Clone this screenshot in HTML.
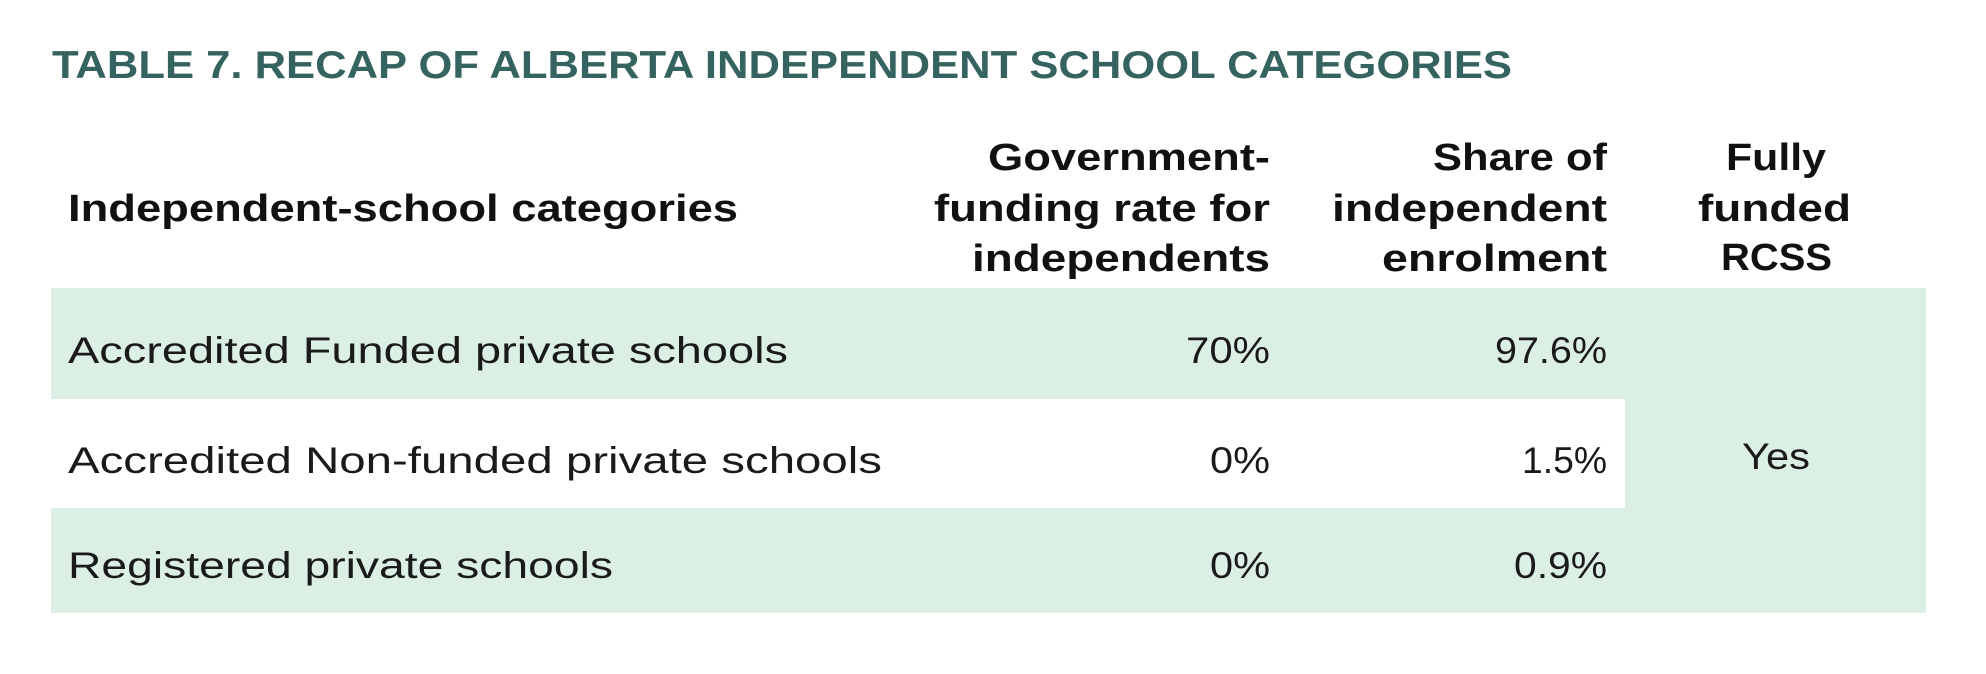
<!DOCTYPE html>
<html><head><meta charset="utf-8"><style>
html,body{margin:0;padding:0;background:#fff;width:1986px;height:674px;overflow:hidden}
svg{display:block}
text{font-family:"Liberation Sans",sans-serif}
.h{font-weight:bold;font-size:38px;fill:#111}
.b{font-size:37px;fill:#1a1a1a}
</style></head><body>
<svg width="1986" height="674" viewBox="0 0 1986 674" xmlns="http://www.w3.org/2000/svg">
<rect x="51" y="288" width="1875" height="325" fill="#dcefe5"/>
<rect x="51" y="399" width="1574" height="109" fill="#fff"/>
<text x="52" y="78" font-size="39" font-weight="bold" fill="#356360" textLength="1460" lengthAdjust="spacingAndGlyphs">TABLE 7. RECAP OF ALBERTA INDEPENDENT SCHOOL CATEGORIES</text>
<text class="h" x="68" y="221" textLength="670" lengthAdjust="spacingAndGlyphs">Independent-school categories</text>
<text class="h" x="988" y="170" textLength="282" lengthAdjust="spacingAndGlyphs">Government-</text>
<text class="h" x="934" y="221" textLength="336" lengthAdjust="spacingAndGlyphs">funding rate for</text>
<text class="h" x="972" y="271" textLength="298" lengthAdjust="spacingAndGlyphs">independents</text>
<text class="h" x="1433" y="170" textLength="174" lengthAdjust="spacingAndGlyphs">Share of</text>
<text class="h" x="1332" y="221" textLength="275" lengthAdjust="spacingAndGlyphs">independent</text>
<text class="h" x="1382" y="271" textLength="225" lengthAdjust="spacingAndGlyphs">enrolment</text>
<text class="h" x="1726" y="170" textLength="100" lengthAdjust="spacingAndGlyphs">Fully</text>
<text class="h" x="1698" y="221" textLength="153" lengthAdjust="spacingAndGlyphs">funded</text>
<text class="h" x="1721" y="270" textLength="111" lengthAdjust="spacingAndGlyphs">RCSS</text>
<text class="b" x="68" y="363" textLength="720" lengthAdjust="spacingAndGlyphs">Accredited Funded private schools</text>
<text class="b" x="68" y="473" textLength="814" lengthAdjust="spacingAndGlyphs">Accredited Non-funded private schools</text>
<text class="b" x="68" y="578" textLength="545" lengthAdjust="spacingAndGlyphs">Registered private schools</text>
<text class="b" x="1186" y="363" textLength="84" lengthAdjust="spacingAndGlyphs">70%</text>
<text class="b" x="1495" y="363" textLength="112" lengthAdjust="spacingAndGlyphs">97.6%</text>
<text class="b" x="1210" y="473" textLength="60" lengthAdjust="spacingAndGlyphs">0%</text>
<text class="b" x="1522" y="473" textLength="85" lengthAdjust="spacingAndGlyphs">1.5%</text>
<text class="b" x="1210" y="578" textLength="60" lengthAdjust="spacingAndGlyphs">0%</text>
<text class="b" x="1514" y="578" textLength="93" lengthAdjust="spacingAndGlyphs">0.9%</text>
<text class="b" x="1742" y="469" textLength="68" lengthAdjust="spacingAndGlyphs">Yes</text>
</svg>
</body></html>
